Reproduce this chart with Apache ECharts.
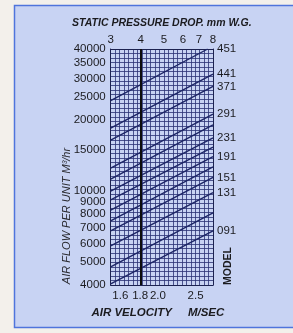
<!DOCTYPE html>
<html><head><meta charset="utf-8">
<script src="https://cdn.jsdelivr.net/npm/echarts@6/dist/echarts.min.js"></script>
<style>html,body{margin:0;padding:0;background:#f3f0eb}#c{width:293px;height:333px}</style>
</head><body><div id="c"></div><script>
// Tick labels
const pressureTicks = [3, 4, 5, 6, 7, 8];
const velocityTicks = [1.6, 1.8, 2.0, 2.5];
const flowTicks = [4000, 5000, 6000, 7000, 8000, 9000, 10000, 15000, 20000, 25000, 30000, 35000, 40000];
// Model lines (top to bottom)
const models = ['451', '441', '371', '291', '', '231', '', '191', '', '151', '131', '', '091'];
const startPressure = [3, 3, 3, 3, 3, 3, 3, 3, 3, 3, 3, 3, 3];
const startFlow = [24150, 18500, 16460, 12520, 11250, 10000, 9170, 8310, 7470, 6775, 5855, 4770, 4040];
const endPressure = [7.6, 8, 8, 8, 8, 8, 8, 8, 8, 8, 8, 8, 8];
const endFlow = [40000, 31300, 27750, 21200, 19060, 16790, 15370, 14000, 12650, 11420, 9860, 8080, 6780];
const refPressure = 4; // heavy reference line

const FONT = '"Liberation Sans", Arial, sans-serif';
const INK = '#1b1b1f';
const GRIDC = '#2a3274';

const labelled = [];
models.forEach((m, i) => { if (m) labelled.push(endFlow[i]); });

const series = models.map((m, i) => ({
  type: 'line', name: m || ('line' + i),
  xAxisIndex: 1, yAxisIndex: 0,
  data: [[startPressure[i], startFlow[i]], [endPressure[i], endFlow[i]]],
  symbol: 'none', silent: true,
  lineStyle: { color: '#1d2566', width: 1.4 },
  z: 3,
  markLine: i === 0 ? {
    symbol: 'none', silent: true, label: { show: false },
    lineStyle: { color: '#0d0d0d', width: 2, type: 'solid' },
    data: [{ xAxis: refPressure }]
  } : undefined
}));

const chart = echarts.init(document.getElementById('c'), null, { renderer: 'canvas' });
chart.setOption({
  animation: false,
  backgroundColor: 'transparent',
  textStyle: { fontFamily: FONT },
  grid: { left: 110.7, right: 80, top: 49, bottom: 48 },
  graphic: [
    { type: 'rect', z: -10, shape: { x: 14.5, y: 5.5, width: 300, height: 322 },
      style: { fill: '#c8d3f3', stroke: '#4f74dc', lineWidth: 1.5 } },
    { type: 'text', x: 67, y: 216, rotation: Math.PI / 2,
      style: { text: 'AIR FLOW PER UNIT M³/hr', font: 'italic 11px ' + FONT, fill: '#2a2a30', align: 'center', verticalAlign: 'middle' } },
    { type: 'text', x: 228, y: 266, rotation: Math.PI / 2,
      style: { text: 'MODEL', font: 'bold 10.5px ' + FONT, fill: INK, align: 'center', verticalAlign: 'middle' } }
  ],
  xAxis: [
    { type: 'log', position: 'bottom', min: 1.511, max: 2.773,
      name: 'AIR VELOCITY     M/SEC', nameLocation: 'middle', nameGap: 20,
      nameTextStyle: { fontFamily: FONT, fontSize: 11.5, fontWeight: 'bold', fontStyle: 'italic', color: INK, verticalAlign: 'top', padding: [0, 8, 0, 0] },
      axisLine: { show: true, lineStyle: { color: '#1c2250', width: 1 } },
      axisTick: { show: false }, splitLine: { show: false }, minorTick: { show: false },
      axisLabel: { customValues: velocityTicks, margin: 5, fontSize: 11.5, color: INK, formatter: v => Number(v).toFixed(1) } },
    { type: 'log', position: 'top', min: 3, max: 8,
      name: 'STATIC PRESSURE DROP. mm W.G.', nameLocation: 'middle', nameGap: 17,
      nameTextStyle: { fontFamily: FONT, fontSize: 10.5, fontWeight: 'bold', fontStyle: 'italic', color: INK, verticalAlign: 'bottom' },
      axisLine: { show: true, lineStyle: { color: '#1c2250', width: 1 } },
      axisTick: { show: false }, splitLine: { show: false },
      axisLabel: { customValues: pressureTicks, margin: 3, fontSize: 11.5, color: INK, formatter: v => String(Math.round(v)) } },
    { type: 'value', position: 'bottom', min: 0, max: 23, interval: 1,
      axisLine: { show: false }, axisTick: { show: false }, axisLabel: { show: false },
      splitLine: { show: true, lineStyle: { color: GRIDC, width: 1, opacity: 0.8 } } }
  ],
  yAxis: [
    { type: 'log', position: 'left', min: 4000, max: 40000,
      axisLine: { show: true, lineStyle: { color: '#1c2250', width: 1 } },
      axisTick: { show: false }, splitLine: { show: false },
      axisLabel: { customValues: flowTicks, margin: 5, fontSize: 11.5, color: INK, formatter: v => String(Math.round(v)) } },
    { type: 'log', position: 'right', min: 4000, max: 40000,
      axisLine: { show: true, lineStyle: { color: '#1c2250', width: 1 } },
      axisTick: { show: false }, splitLine: { show: false },
      axisLabel: { customValues: labelled, margin: 4, fontSize: 11.5, color: INK,
        formatter: v => { const i = endFlow.findIndex(f => Math.abs(f - v) < 1); return i >= 0 ? models[i] : ''; } } },
    { type: 'value', position: 'left', min: 0, max: 52, interval: 1,
      axisLine: { show: false }, axisTick: { show: false }, axisLabel: { show: false },
      splitLine: { show: true, lineStyle: { color: GRIDC, width: 1, opacity: 0.8 } } }
  ],
  series: series
});
</script></body></html>
